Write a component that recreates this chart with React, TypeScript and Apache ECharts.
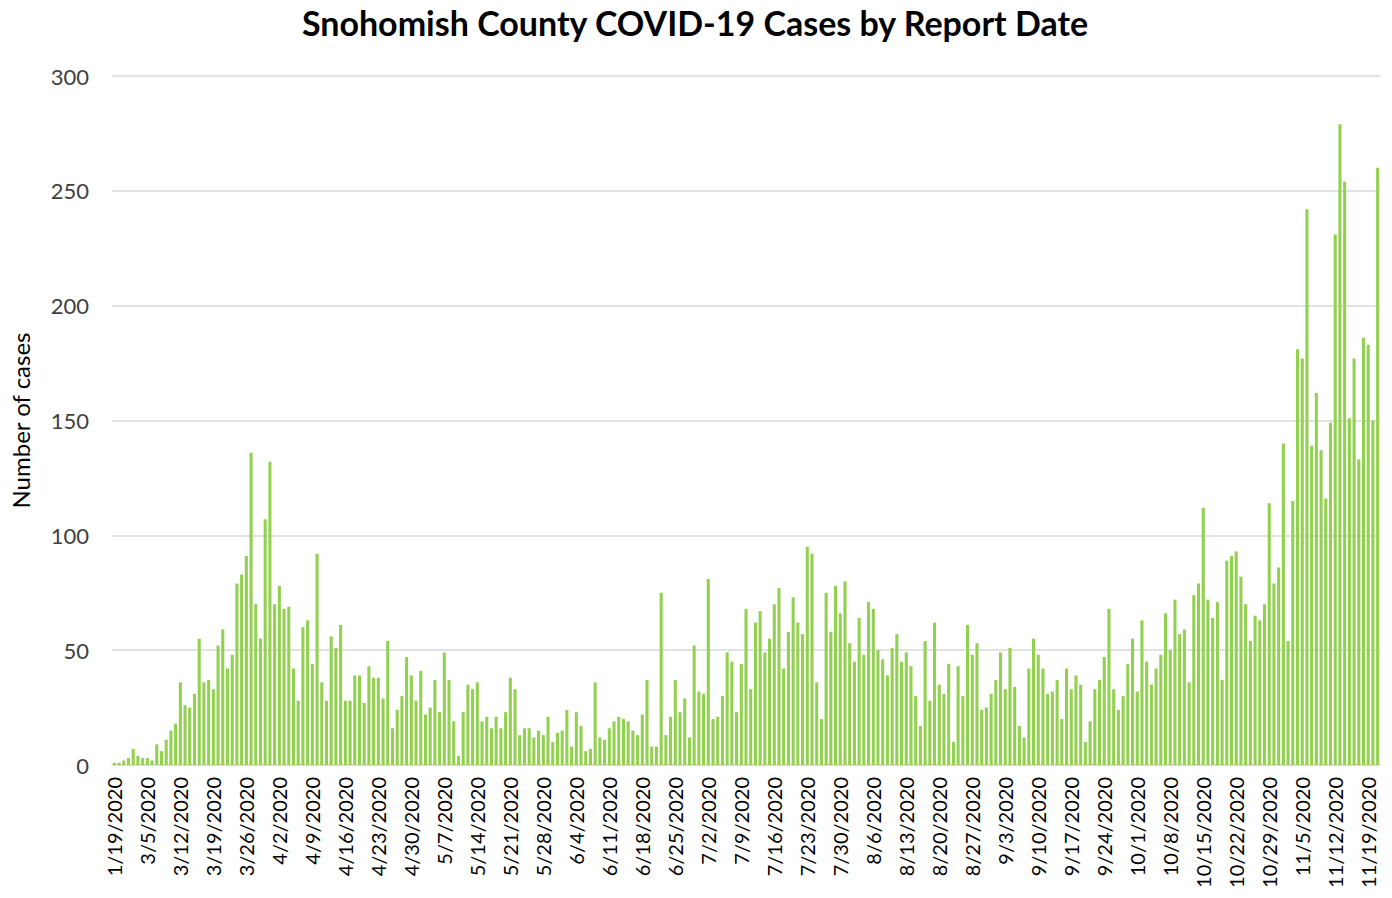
import React, { useEffect, useRef } from "react";
import * as echarts from "echarts";

// Daily cases by report date (first bar 1/19/2020, then daily from 2/28/2020)
const casesEarly = [1, 1, 2, 3, 7, 4, 3, 3, 2, 9, 6, 11, 15, 18, 36, 26, 25, 31, 55, 36, 37, 33, 52];
const casesSpringPeak = [59, 42, 48, 79, 83, 91, 136, 70, 55, 107, 132, 70, 78, 68, 69, 42, 28, 60, 63, 44, 92, 36, 28];
const casesApril = [56, 51, 61, 28, 28, 39, 39, 27, 43, 38, 38, 29, 54, 16, 24, 30, 47, 39, 28, 41, 22, 25];
const casesMay = [37, 23, 49, 37, 19, 4, 23, 35, 33, 36, 19, 21, 16, 21, 16, 23, 38, 33, 13, 16, 16, 12, 15];
const casesJune = [13, 21, 10, 14, 15, 24, 8, 23, 17, 6, 7, 36, 12, 11, 16, 19, 21, 20, 19, 15, 13, 22, 37];
const casesJuly = [8, 8, 75, 13, 21, 37, 23, 29, 12, 52, 32, 31, 81, 20, 21, 30, 49, 45, 23, 44, 68, 33, 62];
const casesSummerPeak = [67, 49, 55, 70, 77, 42, 58, 73, 62, 57, 95, 92, 36, 20, 75, 58, 78, 66, 80, 53, 45, 64];
const casesAugust = [48, 71, 68, 50, 46, 39, 51, 57, 45, 49, 43, 30, 17, 54, 28, 62, 35, 31, 44, 10, 43, 30, 61];
const casesSeptember = [48, 53, 24, 25, 31, 37, 49, 33, 51, 34, 17, 12, 42, 55, 48, 42, 31, 32, 37, 20, 42, 33, 39];
const casesOctober = [35, 10, 19, 33, 37, 47, 68, 33, 24, 30, 44, 55, 32, 63, 45, 35, 42, 48, 66, 50, 72, 57, 59];
const casesLateOctober = [36, 74, 79, 112, 72, 64, 71, 37, 89, 91, 93, 82, 70, 54, 65, 63, 70, 114, 79, 86, 140, 54];
const casesNovember = [115, 181, 177, 242, 139, 162, 137, 116, 149, 231, 279, 254, 151, 177, 133, 186, 183, 150, 260];

const cases = [
  ...casesEarly, ...casesSpringPeak, ...casesApril, ...casesMay, ...casesJune, ...casesJuly,
  ...casesSummerPeak, ...casesAugust, ...casesSeptember, ...casesOctober, ...casesLateOctober, ...casesNovember,
];

const firstReportDate = "1/19/2020";
const dailyStart = [2020, 1, 28]; // 2/28/2020
const categories = [
  firstReportDate,
  ...cases.slice(1).map((_, i) => {
    const d = new Date(dailyStart[0], dailyStart[1], dailyStart[2] + i);
    return `${d.getMonth() + 1}/${d.getDate()}/${d.getFullYear()}`;
  }),
];

const yTicks = { min: 0, max: 300, interval: 50 };

export default function App() {
  const ref = useRef<HTMLDivElement>(null);
  useEffect(() => {
    document.body.style.margin = "0";
    const chart = echarts.init(ref.current!, null, { renderer: "svg" });
    const font = "Lato, 'Open Sans', sans-serif";
    chart.setOption({
      animation: false,
      backgroundColor: "#ffffff",
      title: {
        text: "Snohomish County COVID-19 Cases by Report Date",
        left: 690,
        textAlign: "center",
        top: 0,
        textStyle: { fontFamily: font, fontSize: 34, fontWeight: "bold", color: "#000" },
      },
      grid: { left: 103, right: 12, top: 76, bottom: 133, containLabel: false },
      xAxis: {
        type: "category",
        data: categories,
        axisTick: { show: false },
        axisLine: { lineStyle: { color: "#d9d9d9", width: 1.5 } },
        axisLabel: {
          rotate: 90,
          interval: 6,
          fontFamily: font,
          fontSize: 20,
          color: "#000",
          margin: 12,
        },
      },
      yAxis: {
        type: "value",
        min: yTicks.min,
        max: yTicks.max,
        interval: yTicks.interval,
        name: "Number of cases",
        nameLocation: "middle",
        nameGap: 80,
        nameTextStyle: { fontFamily: font, fontSize: 24, color: "#000" },
        axisLabel: { fontFamily: font, fontSize: 22, color: "#404040", margin: 23 },
        splitLine: { lineStyle: { color: "#d9d9d9", width: 1.5 } },
        axisLine: { show: false },
        axisTick: { show: false },
      },
      series: [
        {
          type: "bar",
          data: cases,
          barCategoryGap: "35%",
          itemStyle: { color: "#92d050" },
        },
      ],
    });
    return () => chart.dispose();
  }, []);
  return <div ref={ref} style={{ width: 1392, height: 898 }} />;
}
